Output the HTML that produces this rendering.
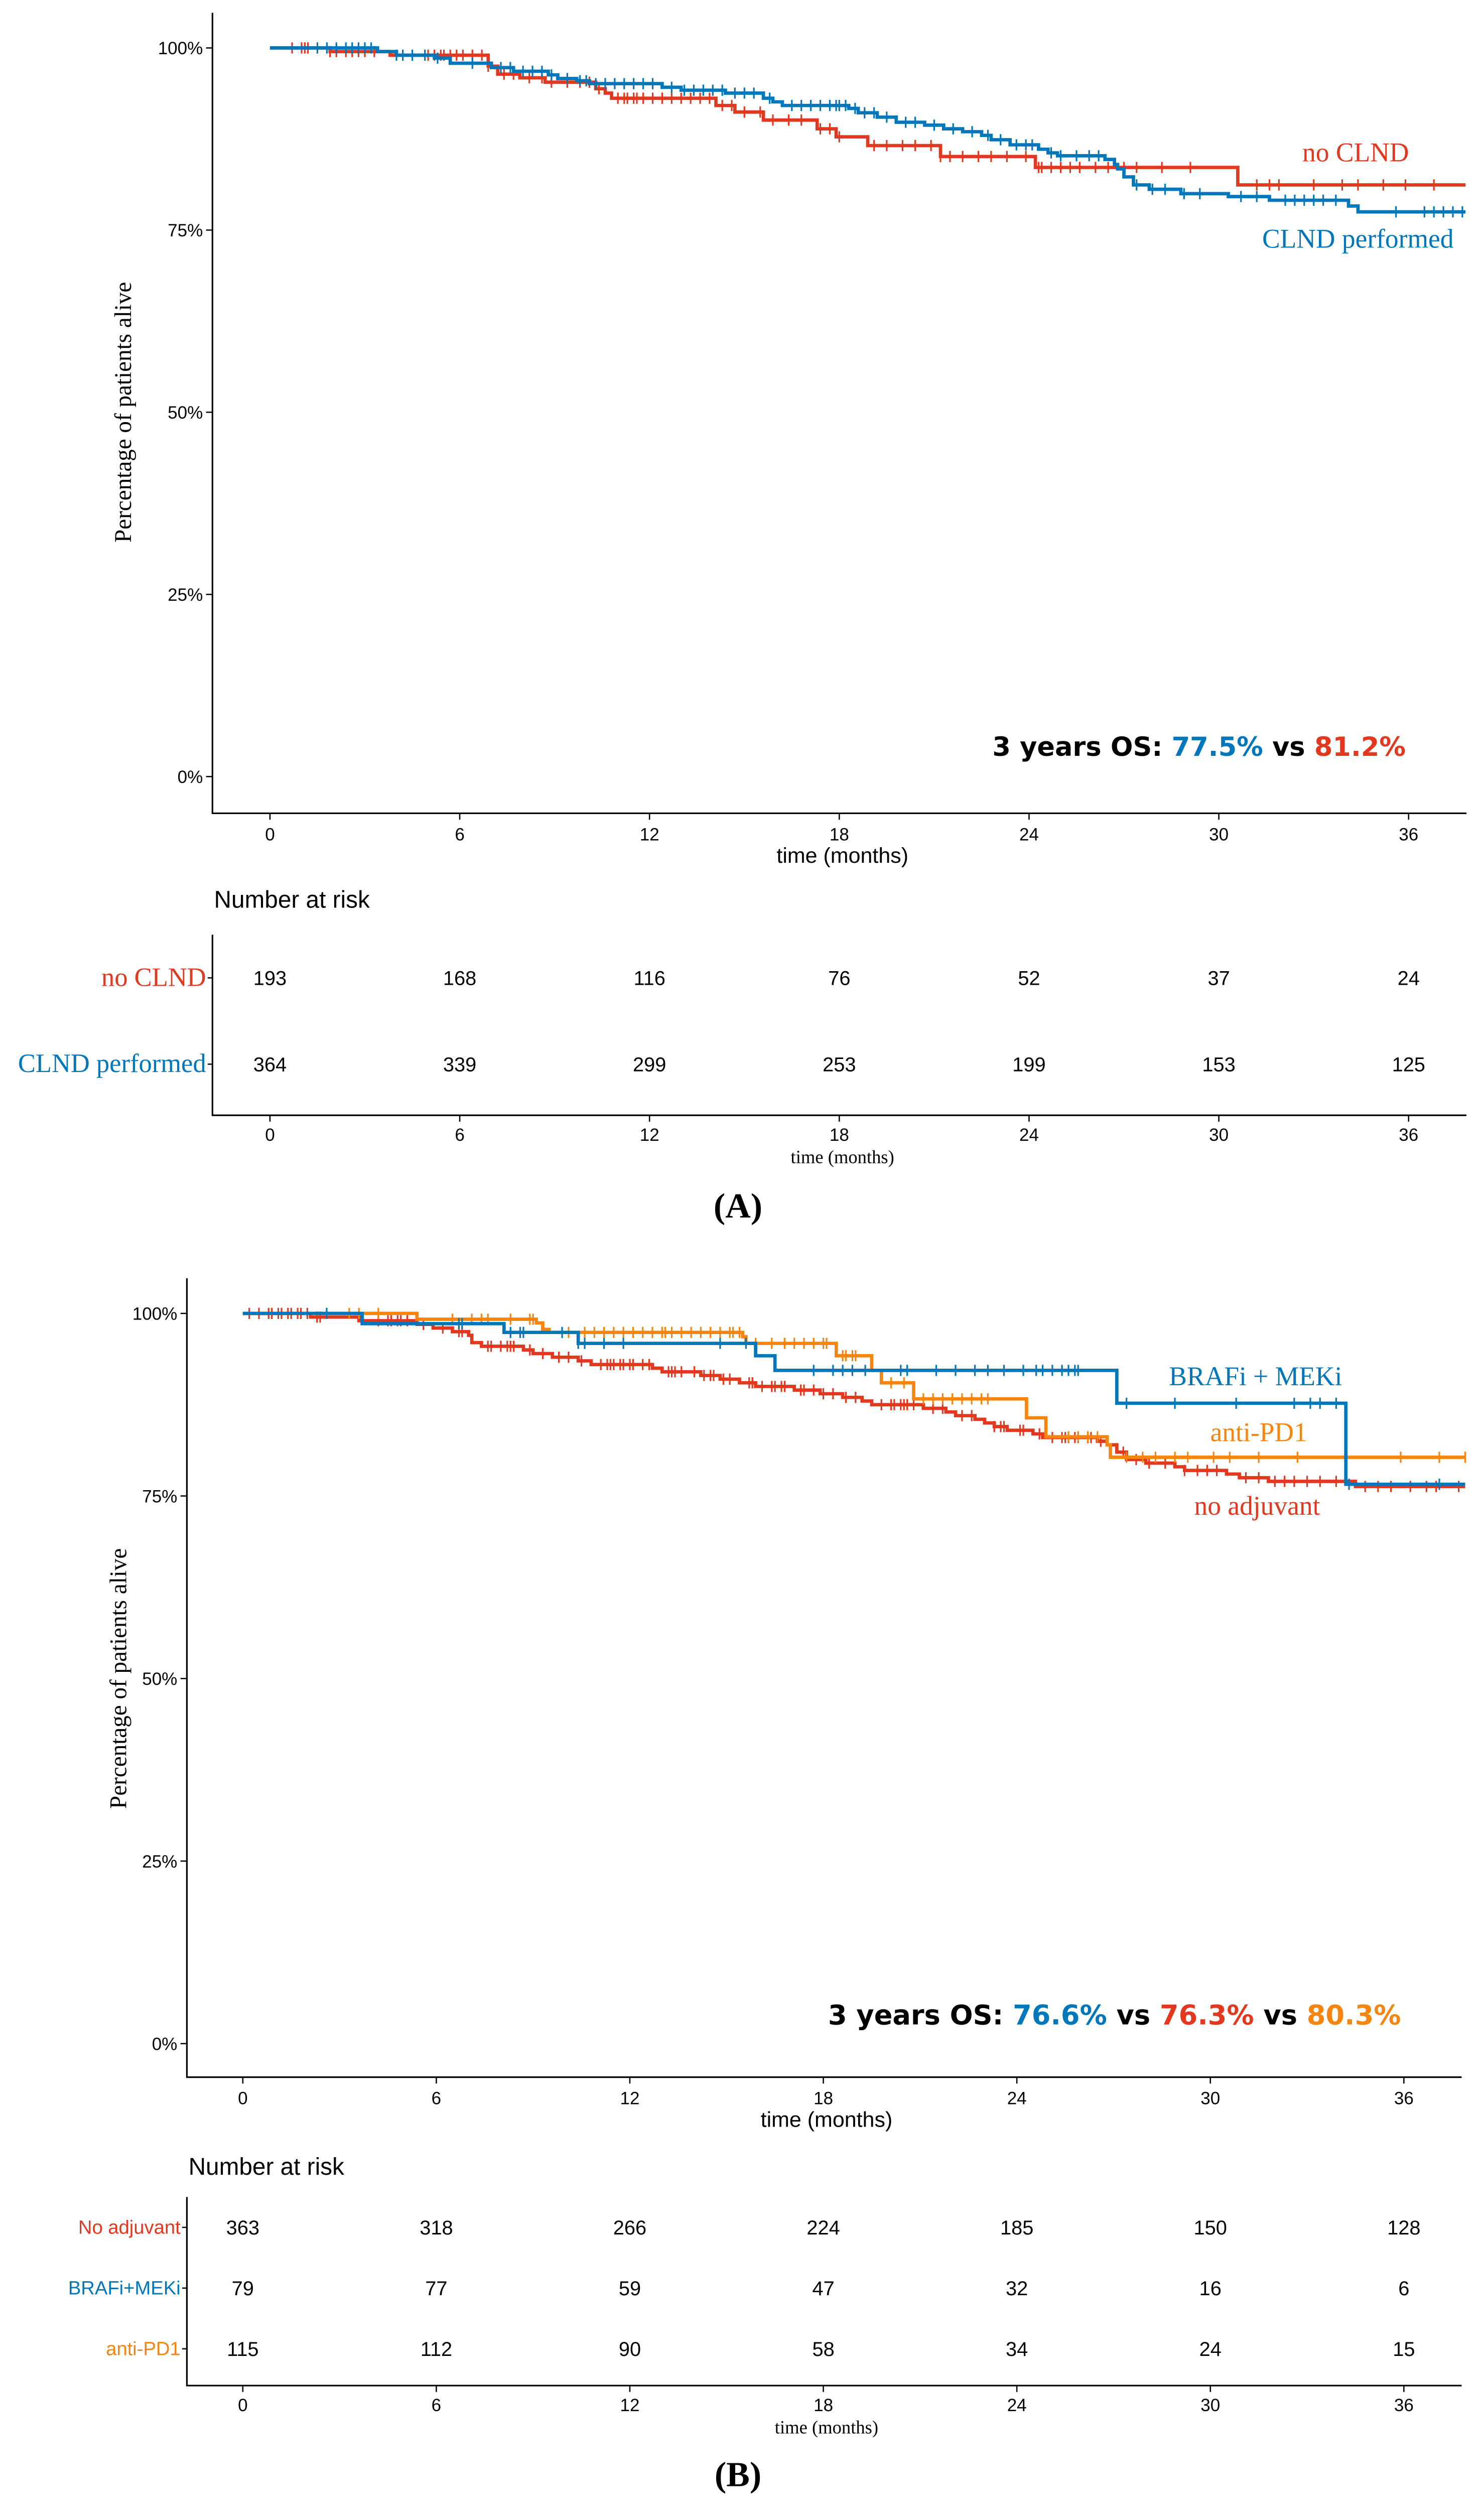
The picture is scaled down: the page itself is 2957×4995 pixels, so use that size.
<!DOCTYPE html>
<html><head><meta charset="utf-8"><style>
html,body{margin:0;padding:0;background:#fff;}
svg{display:block;}
text{font-family:"Liberation Sans",sans-serif;}
.ser{font-family:"Liberation Serif",serif;}
.bold{font-family:"DejaVu Sans","Liberation Sans",sans-serif;font-weight:bold;}
</style></head><body>
<svg id="fig" width="2957" height="4995" viewBox="0 0 929 1569" preserveAspectRatio="none" xmlns="http://www.w3.org/2000/svg">
<g id="pa"></g>
<g id="pb"></g>
</svg>
<script>
// ---------- DATA ----------
const ticksMonths=[0,6,12,18,24,30,36];
const ticksPct=[0,25,50,75,100];
// Panel A
const aRedT=[0,1.9,3.8,6.9,7.2,7.9,8.7,10.3,10.6,10.8,14.1,14.7,15.6,17.3,17.9,18.9,21.2,24.2,30.6];
const aRedS=[100,99.5,99,97.5,96.4,95.9,95.3,94.4,93.8,93.1,92.1,91.2,90.1,88.9,87.8,86.6,85.1,83.6,81.2];
const aRedC=[0.7,1.0,1.1,1.2,1.9,2.1,2.4,2.6,2.8,3.0,3.3,5.0,5.2,5.4,5.5,5.7,5.9,6.1,6.4,6.7,6.9,7.4,7.7,8.2,8.6,8.9,9.4,9.8,10.1,10.4,11.0,11.2,11.3,11.5,11.6,11.8,12.1,12.4,12.7,13.0,13.3,13.6,13.9,14.3,14.6,15.0,15.5,15.9,16.4,16.8,17.4,17.7,18.0,19.1,19.5,20.0,20.4,20.9,21.2,21.5,21.9,22.4,22.8,23.3,23.9,24.3,24.4,24.7,25.0,25.3,25.6,26.1,26.5,27.0,27.4,28.2,29.1,31.2,31.6,31.9,33.0,33.9,34.4,35.2,35.9,36.8];
const aBlueT=[0,3.4,4.0,5.2,5.7,7.0,7.7,8.8,9.1,9.7,10.1,12.4,13.0,14.4,15.6,15.9,16.2,18.3,18.6,19.2,19.8,20.7,21.3,21.9,22.5,22.8,23.4,24.3,24.6,24.9,26.4,26.7,26.8,27.0,27.3,27.8,28.8,30.3,31.6,34.1,34.4];
const aBlueS=[100,99.5,99,98.6,97.9,97.3,96.8,96.3,95.8,95.5,95.1,94.6,94.2,93.8,93.1,92.6,92.1,91.7,91.1,90.5,89.8,89.4,88.9,88.5,88.0,87.4,86.7,86.1,85.6,85.2,84.7,84.0,83.4,82.3,81.2,80.6,80.0,79.6,79.1,78.3,77.5];
const aBlueC=[1.5,1.8,2.1,2.4,2.6,2.8,3.0,3.2,4.0,4.2,4.5,4.9,5.3,6.4,7.3,7.6,8.0,8.3,8.6,8.9,9.4,9.8,10.0,10.3,10.6,10.9,11.2,11.5,11.8,12.1,12.7,13.1,13.4,13.7,14.0,14.3,14.7,15.0,15.3,15.8,16.5,16.8,17.1,17.4,17.7,17.9,18.0,18.2,18.5,18.8,19.1,19.5,20.1,20.4,21.0,21.6,22.2,22.7,23.1,23.6,23.9,24.1,24.7,25.0,25.5,25.9,26.2,27.4,27.9,28.3,28.9,29.4,30.7,31.2,32.1,32.4,32.7,33.0,33.3,33.7,35.6,36.5,36.8,37.1,37.4,37.7];
const aRiskRed=[193,168,116,76,52,37,24];
const aRiskBlue=[364,339,299,253,199,153,125];
// Panel B
const bOrT=[0,5.4,9.1,9.3,9.5,15.5,15.6,18.4,19.5,19.8,20.8,24.3,24.9,26.8,26.9];
const bOrS=[100,99.2,98.7,97.8,97.4,96.8,95.9,94.2,92.2,90.5,88.3,85.7,83.1,82.0,80.3];
const bOrC=[3.3,3.6,4.2,6.5,7.1,7.4,7.6,8.3,8.9,9.0,10.1,10.6,10.9,11.2,11.5,11.8,12.1,12.4,12.7,13.0,13.1,13.3,13.6,13.9,14.2,14.5,14.8,15.1,15.2,15.4,15.9,16.4,16.8,17.1,17.4,17.7,18.0,18.1,18.6,18.7,18.9,19.0,20.1,20.5,21.1,21.4,21.7,22.0,22.3,22.6,22.9,23.1,25.6,25.9,26.2,26.5,27.4,27.9,28.3,28.9,29.3,30.1,30.6,31.5,32.7,34.2,35.9,37.1,37.9];
const bBlT=[0,3.7,8.1,10.4,15.9,16.5,27.1,34.2];
const bBlS=[100,98.6,97.4,95.9,94.2,92.2,87.7,76.6];
const bBlC=[2.6,6.7,6.8,8.3,8.6,8.7,9.9,10.4,10.6,11.2,11.8,14.8,15.6,17.7,18.3,18.6,18.9,19.3,20.4,20.6,21.5,22.1,22.7,23.1,23.6,24.2,24.6,24.8,25.1,25.4,25.6,25.8,25.9,27.4,28.9,30.8,32.6,33.1,33.4,33.9,34.3,37.1];
const bRedT=[0,2.1,3.6,5.4,5.9,6.5,7.0,7.1,7.4,8.7,9.0,9.6,10.4,10.8,12.7,13.0,14.2,14.8,15.4,15.9,17.1,17.9,18.6,19.2,19.5,21.1,21.8,22.1,22.7,23.0,23.3,23.7,24.5,24.8,26.5,26.8,27.1,27.4,28.0,28.9,29.2,30.5,30.9,31.8,34.5];
const bRedS=[100,99.5,99,98.5,98,97.5,97,96,95.5,95,94.5,94,93.5,93,92.5,92,91.5,91,90.5,90,89.5,89,88.5,88,87.5,87,86.5,86,85.5,85,84.5,84,83.5,83,82.5,82,81,80,79.5,79,78.5,78,77.5,77,76.3];
const bRedC=[0.2,0.5,0.8,0.9,1.1,1.2,1.4,1.5,1.7,1.8,2.0,2.3,2.4,4.2,4.5,4.6,4.8,4.9,5.1,5.6,6.2,6.7,6.8,7.6,7.7,8.0,8.2,8.3,8.4,8.9,9.3,9.8,10.1,10.5,11.1,11.3,11.4,11.5,11.7,11.8,12.0,12.1,12.4,12.6,13.2,13.3,13.4,13.6,14.0,14.3,14.5,14.6,14.9,15.1,15.7,15.8,16.1,16.4,16.5,16.7,16.8,17.3,17.4,17.7,18.0,18.3,18.7,19.0,19.8,20.1,20.2,20.4,20.5,20.6,20.8,21.4,21.7,22.3,22.6,23.3,23.5,23.6,24.1,24.2,24.7,25.1,25.4,25.5,25.6,25.8,25.9,26.2,26.3,26.6,27.3,27.7,28.1,28.6,29.2,29.6,29.9,30.2,31.1,31.5,32.0,32.3,32.6,33.0,33.4,33.9,34.8,35.2,35.6,36.2,36.7,37.0,37.7];
const bRiskNo=[363,318,266,224,185,150,128];
const bRiskBr=[79,77,59,47,32,16,6];
const bRiskPd=[115,112,90,58,34,24,15];

const RED="#E2381F",BLUE="#0077BB",OR="#F5850F";
const NS="http://www.w3.org/2000/svg";
function mk(parent,tag,attrs,txt){const e=document.createElementNS(NS,tag);for(const k in attrs)e.setAttribute(k,attrs[k]);if(txt!==undefined)e.textContent=txt;parent.appendChild(e);return e;}
function stepAt(T,S,t){let v=S[0];for(let i=0;i<T.length;i++){if(T[i]<=t)v=S[i];}return v;}

function curve(g,T,S,C,end,xs,ys,col,name){
  let d="M"+xs(T[0])+","+ys(S[0]);
  for(let i=1;i<T.length;i++){d+=" H"+xs(T[i])+" V"+ys(S[i]);}
  d+=" H"+xs(end);
  const p=mk(g,"path",{d:d,fill:"none",stroke:col,"stroke-width":2.1});
  
  
  let cd="";
  C.forEach(t=>{const x=xs(t),y=ys(stepAt(T,S,t));cd+="M"+x+","+(y-3.5)+" V"+(y+3.5)+" ";});
  const c=mk(g,"path",{d:cd,fill:"none",stroke:col,"stroke-width":1});
  
  
}

function panel(g,cfg){
  const xs=m=>cfg.x0+m*cfg.dx, ys=s=>cfg.y0-s*cfg.dy;
  mk(g,"path",{d:`M${cfg.left},${cfg.top} V${cfg.bot} H${cfg.right}`,fill:"none",stroke:"#000","stroke-width":1});
  ticksPct.forEach(p=>{
    mk(g,"line",{x1:cfg.left-4,x2:cfg.left,y1:ys(p),y2:ys(p),stroke:"#000","stroke-width":0.8});
    const t=mk(g,"text",{x:cfg.left-6,y:ys(p)+4,"font-size":11,"text-anchor":"end"},p+"%");
    
    
  });
  ticksMonths.forEach(m=>{
    mk(g,"line",{x1:xs(m),x2:xs(m),y1:cfg.bot,y2:cfg.bot+4,stroke:"#000","stroke-width":0.8});
    const t=mk(g,"text",{x:xs(m),y:cfg.bot+17,"font-size":11,"text-anchor":"middle"},m);
    
    
  });
  const xt=mk(g,"text",{x:(xs(0)+xs(36))/2+2,y:cfg.bot+31,"font-size":13.5,"text-anchor":"middle"},"time (months)");
  
  
  const yt=mk(g,"text",{class:"ser",x:0,y:0,"font-size":14.8,"text-anchor":"middle",transform:`translate(${cfg.ylabX},${(ys(0)+ys(100))/2}) rotate(-90)`},"Percentage of patients alive");
  
  
  cfg.series.forEach(s=>curve(g,s.T,s.S,s.C,cfg.end,xs,ys,s.col,s.name));
  const rt=mk(g,"text",{x:cfg.left+1,y:cfg.nrY,"font-size":15},"Number at risk");
  
  
  mk(g,"path",{d:`M${cfg.left},${cfg.rTop} V${cfg.rBot} H${cfg.right}`,fill:"none",stroke:"#000","stroke-width":1});
  cfg.rows.forEach(r=>{
    mk(g,"line",{x1:cfg.left-3,x2:cfg.left,y1:r.y,y2:r.y,stroke:"#000","stroke-width":0.8});
    const lab=mk(g,"text",{class:cfg.rowSerif?"ser":"",x:cfg.left-4,y:r.y+(cfg.rowSerif?5:4),"font-size":cfg.rowFs,"text-anchor":"end",fill:r.col},r.label);
    
    
    r.vals.forEach((v,i)=>{
      const t=mk(g,"text",{x:xs(ticksMonths[i]),y:r.y+4.5,"font-size":12.5,"text-anchor":"middle"},v);
      
      
    });
  });
  ticksMonths.forEach(m=>{
    mk(g,"line",{x1:xs(m),x2:xs(m),y1:cfg.rBot,y2:cfg.rBot+4,stroke:"#000","stroke-width":0.8});
    mk(g,"text",{x:xs(m),y:cfg.rBot+16,"font-size":11,"text-anchor":"middle"},m);
  });
  const t2=mk(g,"text",{class:"ser",x:(xs(0)+xs(36))/2+2,y:cfg.rBot+30,"font-size":11.5,"text-anchor":"middle"},"time (months)");
  
  
  const pl=mk(g,"text",{class:"ser",x:cfg.plX,y:cfg.plY,"font-size":22,"font-weight":"bold","text-anchor":"middle"},cfg.plabel);
  
  
  return {xs,ys};
}

const ga=document.getElementById('pa');
panel(ga,{x0:169,dx:19.8,y0:486,dy:4.56,left:133,right:918,top:8,bot:509,ylabX:82,end:37.8,
  series:[{T:aRedT,S:aRedS,C:aRedC,col:RED,name:'no-clnd'},{T:aBlueT,S:aBlueS,C:aBlueC,col:BLUE,name:'clnd-performed'}],
  nrY:568,rTop:585,rBot:698,rowSerif:true,rowFs:16.5,
  rows:[{y:612,label:"no CLND",col:RED,vals:aRiskRed},{y:666,label:"CLND performed",col:BLUE,vals:aRiskBlue}],
  plX:462,plY:762,plabel:"(A)"});
function ann(g,x,y,txt,col,anchor,name){const t=mk(g,"text",{class:"ser",x:x,y:y,"font-size":16.8,fill:col,"text-anchor":anchor},txt);}
ann(ga,882,101,"no CLND",RED,"end","label-no-clnd");
ann(ga,910,155,"CLND performed",BLUE,"end","label-clnd-performed");
(function(){const t=mk(ga,"text",{class:"bold",x:880,y:473,"font-size":16.5,"text-anchor":"end"});

[["3 years OS: ","#000"],["77.5%",BLUE],[" vs ","#000"],["81.2%",RED]].forEach(p=>mk(t,"tspan",{fill:p[1]},p[0]));})();

const gb=document.getElementById('pb');
panel(gb,{x0:152,dx:20.19,y0:1279,dy:4.57,left:117,right:915,top:800,bot:1300,ylabX:79,end:37.9,
  series:[{T:bRedT,S:bRedS,C:bRedC,col:RED,name:'no-adjuvant'},{T:bOrT,S:bOrS,C:bOrC,col:OR,name:'anti-pd1'},{T:bBlT,S:bBlS,C:bBlC,col:BLUE,name:'brafi-meki'}],
  nrY:1361,rTop:1375,rBot:1493,rowSerif:false,rowFs:12,
  rows:[{y:1394,label:"No adjuvant",col:RED,vals:bRiskNo},{y:1432,label:"BRAFi+MEKi",col:BLUE,vals:bRiskBr},{y:1470,label:"anti-PD1",col:OR,vals:bRiskPd}],
  plX:462,plY:1556,plabel:"(B)"});
ann(gb,786,867,"BRAFi + MEKi",BLUE,"middle","label-brafi-meki");
ann(gb,788,902,"anti-PD1",OR,"middle","label-anti-pd1");
ann(gb,787,948,"no adjuvant",RED,"middle","label-no-adjuvant");
(function(){const t=mk(gb,"text",{class:"bold",x:877,y:1267,"font-size":17,"text-anchor":"end"});

[["3 years OS: ","#000"],["76.6%",BLUE],[" vs ","#000"],["76.3%",RED],[" vs ","#000"],["80.3%",OR]].forEach(p=>mk(t,"tspan",{fill:p[1]},p[0]));})();
</script>
</body></html>
